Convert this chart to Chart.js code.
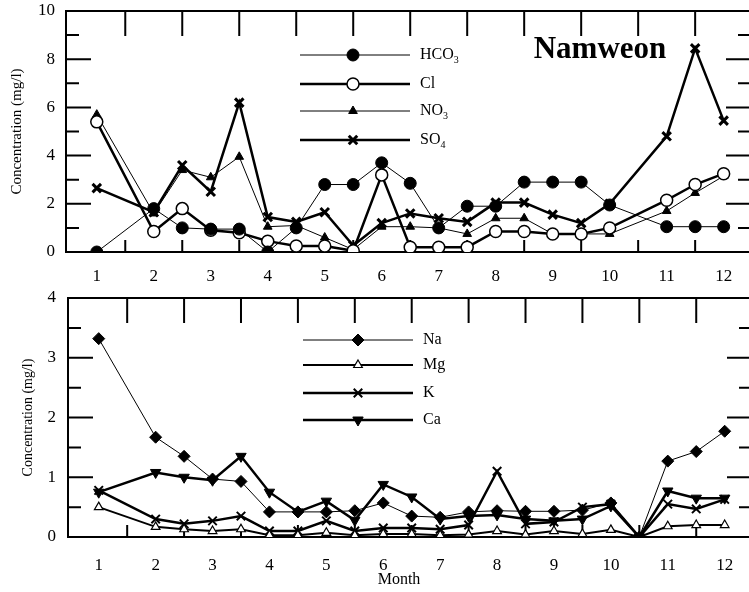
<!DOCTYPE html>
<html>
<head>
<meta charset="utf-8">
<script src="https://cdn.jsdelivr.net/npm/chart.js@4/dist/chart.umd.min.js"></script>
<style>
  html, body { margin: 0; padding: 0; background: #fff; overflow: hidden; }
  #wrap { position: relative; width: 749px; height: 592px; overflow: hidden; }
  canvas { position: absolute; left: 0; }
</style>
</head>
<body>
<div id="wrap">
  <canvas id="anions" width="760" height="290" style="top:0"></canvas>
  <canvas id="cations" width="760" height="302" style="top:290px"></canvas>
</div>
<script>
// sampling months (half-month steps)
const monthsTop = [1, 2, 2.5, 3, 3.5, 4, 4.5, 5, 5.5, 6, 6.5, 7, 7.5, 8, 8.5, 9, 9.5, 10, 11, 11.5, 12];
const monthsBottom = [1, 2, 2.5, 3, 3.5, 4, 4.5, 5, 5.5, 6, 6.5, 7, 7.5, 8, 8.5, 9, 9.5, 10, 10.5, 11, 11.5, 12];
const monthTicks = [1, 2, 3, 4, 5, 6, 7, 8, 9, 10, 11, 12];

// anions (mg/l)
const hco3 = [0, 1.8, 1.0, 0.95, 0.95, 0, 1.0, 2.8, 2.8, 3.7, 2.85, 1.0, 1.9, 1.9, 2.9, 2.9, 2.9, 1.95, 1.05, 1.05, 1.05];
const cl   = [5.4, 0.85, 1.8, 0.9, 0.8, 0.45, 0.25, 0.25, 0.05, 3.2, 0.2, 0.2, 0.2, 0.85, 0.85, 0.75, 0.75, 1.0, 2.15, 2.8, 3.25];
const no3  = [5.7, 1.6, 3.4, 3.1, 3.95, 1.05, 1.1, 0.6, 0.1, 1.05, 1.05, 1.0, 0.75, 1.4, 1.4, 0.75, 0.75, 0.75, 1.7, 2.45, 3.15];
const so4  = [2.65, 1.65, 3.6, 2.5, 6.2, 1.45, 1.25, 1.65, 0.27, 1.2, 1.6, 1.4, 1.25, 2.05, 2.05, 1.55, 1.2, 2.0, 4.8, 8.45, 5.45];

// cations (mg/l)
const na = [3.32, 1.67, 1.35, 0.97, 0.93, 0.42, 0.42, 0.42, 0.44, 0.57, 0.35, 0.33, 0.42, 0.44, 0.43, 0.43, 0.45, 0.57, 0, 1.27, 1.43, 1.77];
const mg = [0.5, 0.17, 0.13, 0.1, 0.13, 0.03, 0.03, 0.07, 0.03, 0.05, 0.05, 0.03, 0.04, 0.1, 0.04, 0.1, 0.05, 0.12, 0, 0.18, 0.2, 0.2];
const k  = [0.78, 0.3, 0.22, 0.27, 0.35, 0.1, 0.1, 0.27, 0.1, 0.15, 0.15, 0.13, 0.2, 1.1, 0.22, 0.25, 0.5, 0.55, 0, 0.55, 0.47, 0.63];
const ca = [0.75, 1.08, 1.0, 0.95, 1.35, 0.75, 0.42, 0.6, 0.28, 0.88, 0.67, 0.3, 0.35, 0.37, 0.3, 0.27, 0.3, 0.52, 0, 0.77, 0.65, 0.65];

const yTicksTop = [0, 2, 4, 6, 8, 10];
const yTicksBottom = [0, 1, 2, 3, 4];

const SERIF = '"Liberation Serif", "Times New Roman", serif';

function pts(xs, ys) {
  return xs.map((m, i) => ({ x: m, y: ys[i] }));
}

function series(label, xs, ys, o) {
  return {
    label: label,
    data: pts(xs, ys),
    borderColor: '#000',
    borderWidth: o.line,
    pointStyle: o.style,
    pointRotation: o.rot || 0,
    pointRadius: o.r,
    pointBorderWidth: o.pbw || 1,
    pointBorderColor: '#000',
    pointBackgroundColor: o.open ? '#fff' : '#000',
    tension: 0,
  };
}

// frame, inward tick marks, in-plot legend and labels
function decorations(cfg) {
  return {
    id: 'decorations',
    beforeDatasetsDraw(chart) {
      const { ctx, chartArea: a, scales: { x, y } } = chart;
      ctx.save();
      ctx.strokeStyle = '#000';
      ctx.lineWidth = 2;
      ctx.strokeRect(a.left, a.top, a.right - a.left, a.bottom - a.top);
      ctx.beginPath();
      for (let m = 1.5; m < 12.4; m += 1) {
        const px = x.getPixelForValue(m);
        ctx.moveTo(px, a.top); ctx.lineTo(px, a.top + 25);
        ctx.moveTo(px, a.bottom); ctx.lineTo(px, a.bottom - 12);
      }
      for (let v = cfg.minor; v < cfg.max; v += cfg.minor) {
        const py = y.getPixelForValue(v);
        const major = Math.abs(v / cfg.major - Math.round(v / cfg.major)) < 1e-6;
        const len = major ? 25 : 13;
        ctx.moveTo(a.left, py); ctx.lineTo(a.left + len, py);
        ctx.moveTo(a.right, py); ctx.lineTo(a.right - len, py);
      }
      ctx.stroke();
      ctx.restore();
    },
    afterDraw(chart) {
      const { ctx } = chart;
      ctx.save();
      chart.data.datasets.forEach((ds, i) => {
        const row = cfg.legend[i];
        const yy = cfg.legendY[i];
        ctx.strokeStyle = '#000';
        ctx.lineWidth = ds.borderWidth;
        ctx.beginPath();
        ctx.moveTo(cfg.legendX0, yy);
        ctx.lineTo(cfg.legendX1, yy);
        ctx.stroke();
        ctx.fillStyle = ds.pointBackgroundColor;
        ctx.strokeStyle = '#000';
        ctx.lineWidth = ds.pointBorderWidth;
        Chart.helpers.drawPoint(ctx, {
          pointStyle: ds.pointStyle,
          rotation: ds.pointRotation,
          radius: ds.pointRadius,
          borderWidth: ds.pointBorderWidth,
        }, cfg.legendMark, yy);
        ctx.fillStyle = '#000';
        ctx.textBaseline = 'middle';
        ctx.textAlign = 'left';
        ctx.font = '16px ' + SERIF;
        ctx.fillText(row.text, cfg.legendText, yy);
        if (row.sub) {
          const w = ctx.measureText(row.text).width;
          ctx.font = '10px ' + SERIF;
          ctx.fillText(row.sub, cfg.legendText + w, yy + 5);
        }
      });
      (cfg.labels || []).forEach(t => {
        ctx.fillStyle = '#000';
        ctx.font = t.font;
        ctx.textAlign = 'center';
        ctx.textBaseline = 'middle';
        ctx.fillText(t.text, t.x, t.y);
      });
      ctx.restore();
    }
  };
}

function panel(canvasId, datasets, o) {
  return new Chart(document.getElementById(canvasId), {
    type: 'line',
    data: { datasets: datasets },
    options: {
      responsive: false,
      animation: false,
      devicePixelRatio: 1,
      layout: { padding: { top: o.top, right: 4, left: 0, bottom: 0 } },
      plugins: {
        legend: { display: false },
        tooltip: { enabled: false },
      },
      scales: {
        x: {
          type: 'linear',
          min: 0.46,
          max: 12.48,
          afterFit: s => { s.height = o.xHeight; s.paddingLeft = 0; s.paddingRight = 0; },
          afterBuildTicks: s => { s.ticks = monthTicks.map(v => ({ value: v })); },
          grid: { display: false, drawTicks: false },
          border: { display: false },
          ticks: {
            color: '#000',
            padding: o.xPad,
            maxRotation: 0,
            font: { family: SERIF, size: 17 },
            callback: v => String(v),
          },
        },
        y: {
          min: 0,
          max: o.yMax,
          afterFit: s => { s.width = o.yWidth; s.paddingTop = 0; s.paddingBottom = 0; },
          afterBuildTicks: s => { s.ticks = o.yTicks.map(v => ({ value: v })); },
          grid: { display: false, drawTicks: false },
          border: { display: false },
          ticks: {
            color: '#000',
            padding: o.yPad,
            font: { family: SERIF, size: 17 },
            callback: v => String(v),
          },
          title: {
            display: true,
            text: 'Concentration (mg/l)',
            color: '#000',
            font: { family: SERIF, size: o.titleSize },
            padding: { top: o.titlePad, bottom: 0 },
          },
        },
      },
    },
    plugins: [decorations(o.deco)],
  });
}

panel('anions', [
  series('HCO3', monthsTop, hco3, { line: 1, style: 'circle', r: 6 }),
  series('Cl', monthsTop, cl, { line: 2.5, style: 'circle', r: 6, open: true, pbw: 1.5 }),
  series('NO3', monthsTop, no3, { line: 1, style: 'triangle', r: 5 }),
  series('SO4', monthsTop, so4, { line: 2.5, style: 'crossRot', r: 6, pbw: 3 }),
], {
  top: 11, xHeight: 38, xPad: 14, yWidth: 66, yPad: 11, yMax: 10, yTicks: yTicksTop,
  titleSize: 15, titlePad: 8,
  deco: {
    max: 10, major: 2, minor: 1,
    legendX0: 300, legendX1: 410, legendMark: 353, legendText: 420,
    legendY: [55, 84, 111, 140],
    legend: [{ text: 'HCO', sub: '3' }, { text: 'Cl' }, { text: 'NO', sub: '3' }, { text: 'SO', sub: '4' }],
    labels: [{ text: 'Namweon', x: 600, y: 50, font: 'bold 31px ' + SERIF }],
  },
});

panel('cations', [
  series('Na', monthsBottom, na, { line: 1, style: 'rectRot', r: 6 }),
  series('Mg', monthsBottom, mg, { line: 2, style: 'triangle', r: 5, open: true, pbw: 1.2 }),
  series('K', monthsBottom, k, { line: 2.5, style: 'crossRot', r: 6, pbw: 2 }),
  series('Ca', monthsBottom, ca, { line: 2.5, style: 'triangle', rot: 180, r: 6 }),
], {
  top: 6, xHeight: 55, xPad: 18, yWidth: 68, yPad: 12, yMax: 4, yTicks: yTicksBottom,
  titleSize: 14, titlePad: 20,
  deco: {
    max: 4, major: 1, minor: 0.5,
    legendX0: 303, legendX1: 413, legendMark: 358, legendText: 423,
    legendY: [50, 75, 103, 130],
    legend: [{ text: 'Na' }, { text: 'Mg' }, { text: 'K' }, { text: 'Ca' }],
    labels: [{ text: 'Month', x: 399, y: 290, font: '16px ' + SERIF }],
  },
});
</script>
</body>
</html>
